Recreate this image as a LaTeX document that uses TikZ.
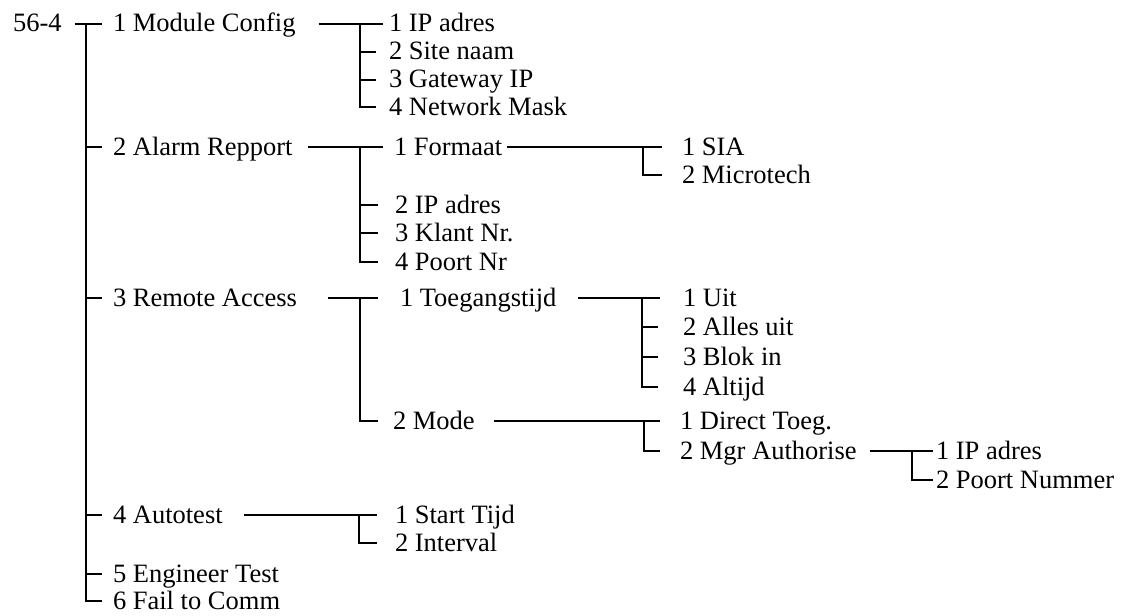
\documentclass[tikz,border=0pt]{standalone}
\usepackage{fontspec}
\setmainfont{Liberation Serif}
\begin{document}
\begin{tikzpicture}[x=0.5pt,y=-0.5pt,line width=1pt,
  lbl/.style={anchor=west,inner sep=0pt,text height=9pt,text depth=1pt,
    font=\fontsize{13.25}{15}\selectfont}]
\useasboundingbox (0,0) rectangle (1138,615);
% ---- texts
\node[lbl] (root) at (12,24) {56-4};
\node[lbl] (mc) at (112,24) {1 Module Config};
\node[lbl] (ar) at (112,147) {2 Alarm Repport};
\node[lbl] (ra) at (112,298) {3 Remote Access};
\node[lbl] (atst) at (112,515) {4 Autotest};
\node[lbl] (et) at (112,574) {5 Engineer Test};
\node[lbl] (fc) at (112,601) {6 Fail to Comm};
% module config children
\node[lbl] (ipa) at (388,24) {1 IP adres};
\node[lbl] (sn) at (388,52) {2 Site naam};
\node[lbl] (gw) at (388,80) {3 Gateway IP};
\node[lbl] (nm) at (388,107) {4 Network Mask};
% alarm children
\node[lbl] (fm) at (393,147) {1 Formaat};
\node[lbl] (ipb) at (394,205) {2 IP adres};
\node[lbl] (kn) at (394,233) {3 Klant Nr.};
\node[lbl] (pn) at (394,262) {4 Poort Nr};
\node[lbl] (sia) at (681,147) {1 SIA};
\node[lbl] (mt) at (681,175) {2 Microtech};
% remote access children
\node[lbl] (tg) at (399,298) {1 Toegangstijd};
\node[lbl] (md) at (392,421) {2 Mode};
\node[lbl] (uit) at (682,298) {1 Uit};
\node[lbl] (au) at (682,327) {2 Alles uit};
\node[lbl] (bi) at (682,357) {3 Blok in};
\node[lbl] (alt) at (682,387) {4 Altijd};
\node[lbl] (dt) at (679,421) {1 Direct Toeg.};
\node[lbl] (mgr) at (679,451) {2 Mgr Authorise};
\node[lbl] (ipc) at (935,451) {1 IP adres};
\node[lbl] (pnum) at (935,480) {2 Poort Nummer};
% autotest children
\node[lbl] (st) at (394,515) {1 Start Tijd};
\node[lbl] (iv) at (394,543) {2 Interval};
% ---- bars
\coordinate (b0) at (86,0);
\coordinate (b1) at (360,0);
\coordinate (b2) at (360,0);
\coordinate (b3) at (643,0);
\coordinate (b4) at (360,0);
\coordinate (b5) at (642,0);
\coordinate (b6) at (644,0);
\coordinate (b7) at (912,0);
\coordinate (b8) at (359,0);
% root
\draw ([xshift=6pt]root.east) -- ([xshift=-5pt]mc.west);
\draw (b0 |- mc.west) -- (b0 |- fc.west) -- ([xshift=-5pt]fc.west);
\foreach \n in {ar,ra,atst,et} \draw (b0 |- \n.west) -- ([xshift=-5pt]\n.west);
% module config
\draw ([xshift=11pt]mc.east) -- ([xshift=-2.5pt]ipa.west);
\draw (b1 |- ipa.west) -- (b1 |- nm.west) -- ([xshift=-6pt]nm.west);
\foreach \n in {sn,gw} \draw (b1 |- \n.west) -- ([xshift=-6pt]\n.west);
% alarm repport
\draw ([xshift=7pt]ar.east) -- ([xshift=-5pt]fm.west);
\draw (b2 |- fm.west) -- (b2 |- pn.west) -- ([xshift=-8pt]pn.west);
\foreach \n in {ipb,kn} \draw (b2 |- \n.west) -- ([xshift=-8pt]\n.west);
% formaat
\draw ([xshift=2pt]fm.east) -- ([xshift=-9.5pt]sia.west);
\draw (b3 |- sia.west) -- (b3 |- mt.west) -- ([xshift=-9.5pt]mt.west);
% remote access
\draw ([xshift=15pt]ra.east) -- ([xshift=-10.5pt]tg.west);
\draw (b4 |- tg.west) -- (b4 |- md.west) -- ([xshift=-7pt]md.west);
% toegangstijd
\draw ([xshift=10.5pt]tg.east) -- ([xshift=-11pt]uit.west);
\draw (b5 |- uit.west) -- (b5 |- alt.west) -- ([xshift=-12pt]alt.west);
\foreach \n in {au,bi} \draw (b5 |- \n.west) -- ([xshift=-12pt]\n.west);
% mode
\draw ([xshift=9pt]md.east) -- ([xshift=-9.5pt]dt.west);
\draw (b6 |- dt.west) -- (b6 |- mgr.west) -- ([xshift=-9.5pt]mgr.west);
% mgr authorise
\draw ([xshift=6pt]mgr.east) -- ([xshift=-1pt]ipc.west);
\draw (b7 |- ipc.west) -- (b7 |- pnum.west) -- ([xshift=-1pt]pnum.west);
% autotest
\draw ([xshift=10pt]atst.east) -- ([xshift=-8.5pt]st.west);
\draw (b8 |- st.west) -- (b8 |- iv.west) -- ([xshift=-8.5pt]iv.west);
\end{tikzpicture}
\end{document}
